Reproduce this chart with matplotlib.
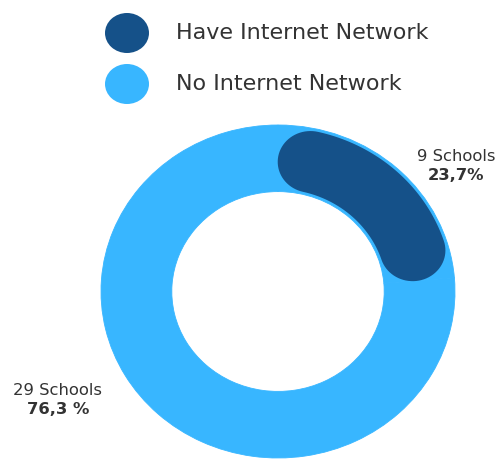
import numpy as np
import matplotlib
matplotlib.use("Agg")
import matplotlib.pyplot as plt
from matplotlib.patches import Ellipse, Polygon

# Schools by internet access
categories = ["Have Internet Network", "No Internet Network"]
schools = [9, 29]
colors = ["#155189", "#38B6FF"]
pct_suffix = ["%", " %"]

W, H = 496, 459
fig = plt.figure(figsize=(W / 100, H / 100), dpi=100)
fig.patch.set_facecolor("white")

FONT = "DejaVu Sans"
TEXT_COLOR = "#333333"

# Donut axes (outer ring spans the data range -1..1)
ax = fig.add_axes([101 / W, 1 / H, 354 / W, 333 / H])
wedges, _ = ax.pie(schools, colors=[colors[1], colors[1]], startangle=90,
                   counterclock=False, radius=1.0,
                   wedgeprops=dict(width=0.4, linewidth=0.6,
                                   edgecolor=colors[1]))
ax.set_aspect("auto")
ax.set_xlim(-1, 1)
ax.set_ylim(-1, 1)
ax.axis("off")

# Highlighted share: a rounded arc inset into its own wedge
w = wedges[0]
r_mid, half = 0.8, 0.185
cap = np.degrees(half / r_mid)
t1 = w.theta1 + cap
t2 = w.theta2 - cap
arc = np.radians(np.linspace(t1, t2, 120))
outer = np.c_[(r_mid + half) * np.cos(arc), (r_mid + half) * np.sin(arc)]
inner = np.c_[(r_mid - half) * np.cos(arc[::-1]), (r_mid - half) * np.sin(arc[::-1])]
a2 = np.radians(t2)
c2 = np.array([r_mid * np.cos(a2), r_mid * np.sin(a2)])
s2 = np.linspace(a2, a2 + np.pi, 40)
end_cap = c2 + half * np.c_[np.cos(s2), np.sin(s2)]
a1 = np.radians(t1)
c1 = np.array([r_mid * np.cos(a1), r_mid * np.sin(a1)])
s1 = np.linspace(a1 - np.pi, a1, 40)
start_cap = c1 + half * np.c_[np.cos(s1), np.sin(s1)]
shape = np.vstack([outer, end_cap, inner, start_cap])
ax.add_patch(Polygon(shape, closed=True, facecolor=colors[0], edgecolor="none"))

# Value labels
total = sum(schools)
label_pos = [(1.006, 0.81, 0.695), (-1.243, -0.595, -0.71)]
for n, suf, (x, y1, y2) in zip(schools, pct_suffix, label_pos):
    pct = f"{100 * n / total:.1f}".replace(".", ",") + suf
    ax.text(x, y1, f"{n} Schools", ha="center", va="center", fontsize=11.8,
            family=FONT, color=TEXT_COLOR, clip_on=False)
    ax.text(x, y2, pct, ha="center", va="center", fontsize=11.8,
            family=FONT, fontweight="bold", color=TEXT_COLOR, clip_on=False)

# Legend drawn in pixel coordinates
lg = fig.add_axes([0, 0, 1, 1], zorder=-1)
lg.set_xlim(0, W)
lg.set_ylim(H, 0)
lg.axis("off")
for (cy, col, name) in zip([33, 84], colors, categories):
    lg.add_patch(Ellipse((127, cy), 44, 40, facecolor=col, edgecolor="none"))
    lg.text(176, cy, name, ha="left", va="center", fontsize=16,
            family=FONT, color=TEXT_COLOR)

fig.savefig("out.png", dpi=100, facecolor="white")
